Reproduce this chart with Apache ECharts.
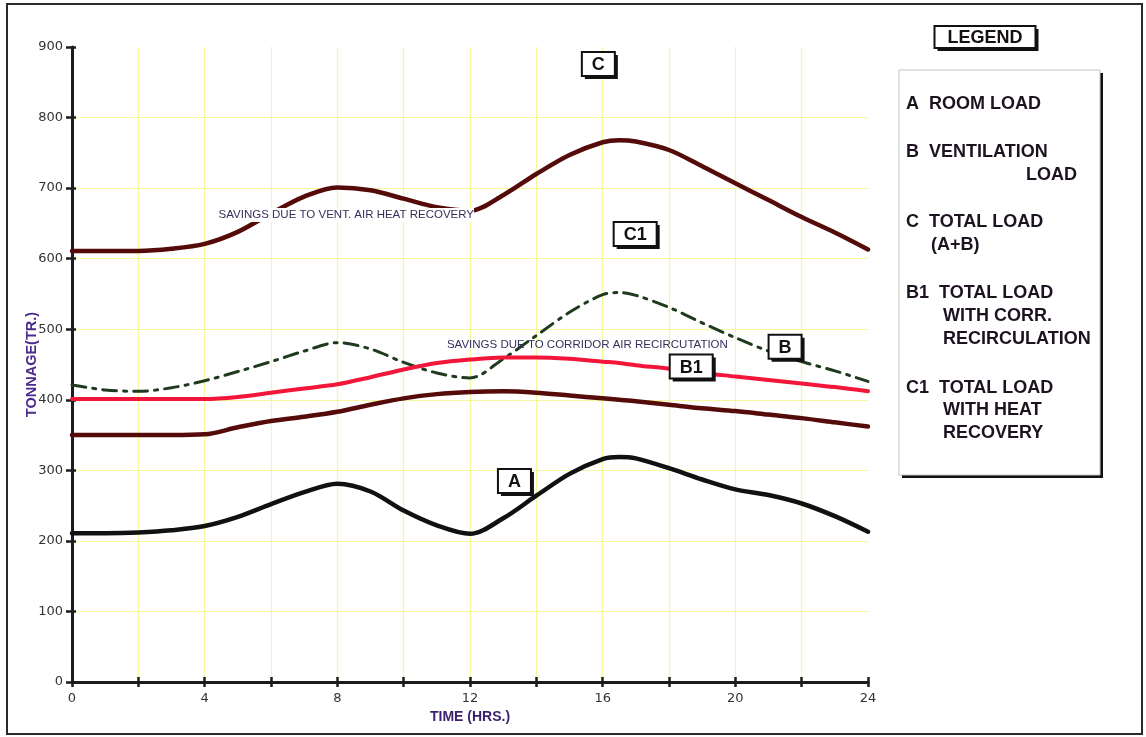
<!DOCTYPE html>
<html><head><meta charset="utf-8">
<script src="https://cdn.jsdelivr.net/npm/echarts@6/dist/echarts.min.js"></script>
<style>html,body{margin:0;padding:0;background:#fff}#c{width:1146px;height:737px}</style>
</head><body><div id="c"></div>
<script>
// ---- data (hours) ----
const hours = [0,1,2,3,4,5,6,7,8,9,10,11,12,13,14,15,16,16.5,17,18,19,20,21,22,23,24];
const totalLoadC   = [611,611,611,614,621,638,664,688,701,697,685,673,668,690,720,747,765,768,766,754,731,707,683,659,637,613];
const dashedLoadC1 = [421,414,412,417,427,440,454,469,481,472,453,438,431,458,491,524,549,552,548,531,509,488,469,454,441,426];
const redLoadB1    = [401,401,401,401,401,404,410,416,422,432,443,452,457,460,460,458,454,452,449,444,438,433,428,423,418,412];
const maroonLoadB  = [350,350,350,350,351,361,370,376,383,393,402,408,411,412,410,406,402,400,398,393,388,384,379,374,368,362];
const roomLoadA    = [211,211,212,215,221,234,252,269,281,270,243,222,210,232,264,295,316,319,317,303,287,273,265,253,235,213];
const xTickStep = 2, xLabelStep = 4, yTickStep = 100;

// annotation anchors (data coordinates)
const boxLabels = ['C','C1','B1','B','A'];
const boxHours  = [15.87, 16.98, 18.67, 21.5, 13.34];
const boxValues = [876, 635, 447, 475, 285];
const noteTexts  = ['SAVINGS DUE TO VENT. AIR HEAT RECOVERY','SAVINGS DUE TO CORRIDOR AIR RECIRCUTATION'];
const noteHours  = [8.27, 15.54];
const noteValues = [662, 478];

const legendLines = [
  ['A  ROOM LOAD', 906, 104, 'left'],
  ['B  VENTILATION', 906, 152, 'left'],
  ['LOAD', 1077, 175, 'right'],
  ['C  TOTAL LOAD', 906, 222, 'left'],
  ['(A+B)', 931, 245, 'left'],
  ['B1  TOTAL LOAD', 906, 293, 'left'],
  ['WITH CORR.', 943, 316, 'left'],
  ['RECIRCULATION', 943, 339, 'left'],
  ['C1  TOTAL LOAD', 906, 388, 'left'],
  ['WITH HEAT', 943, 410, 'left'],
  ['RECOVERY', 943, 433, 'left']
];

const pairs = arr => hours.map((h, i) => [h, arr[i]]);
const FONT = 'Liberation Sans, Arial, sans-serif';
const axisColor = '#1c1c1c';
const gridColor = '#f6f69a';

const chart = echarts.init(document.getElementById('c'));
const lineSeries = (name, data, color, width, type, z) => ({
  name, type: 'line', data: pairs(data), smooth: 0.32, symbol: 'none', z: z || 2,
  lineStyle: { color, width, type: type || 'solid', cap: 'round', join: 'round' },
  xAxisIndex: 0, yAxisIndex: 0
});

chart.setOption({
  animation: false,
  backgroundColor: '#fff',
  grid: { left: 72, right: 278, top: 47, bottom: 55, containLabel: false },
  xAxis: [{
    type: 'value', min: 0, max: 24, interval: xTickStep,
    name: 'TIME (HRS.)', nameLocation: 'middle', nameGap: 26,
    nameTextStyle: { color: '#3b1f6e', fontWeight: 'bold', fontSize: 14, fontFamily: FONT },
    axisLine: { show: true, lineStyle: { color: axisColor, width: 3 } },
    axisTick: { show: true, length: 5, lineStyle: { color: axisColor, width: 2.5 } },
    axisLabel: { color: '#333', fontSize: 13, fontFamily: 'DejaVu Sans', margin: 10,
      formatter: v => (v % xLabelStep === 0 ? String(v) : '') },
    splitLine: { show: true, showMaxLine: false, lineStyle: { color: gridColor, width: 1.2 } }
  }, {
    type: 'value', min: 0, max: 24, interval: xTickStep, position: 'bottom',
    axisLine: { show: false }, axisLabel: { show: false }, splitLine: { show: false },
    axisTick: { show: true, inside: true, length: 5, lineStyle: { color: axisColor, width: 2.5 } }
  }],
  yAxis: [{
    type: 'value', min: 0, max: 900, interval: yTickStep,
    name: 'TONNAGE(TR.)', nameLocation: 'middle', nameGap: 33, nameMoveOverlap: false,
    nameTextStyle: { color: '#4a2a8a', fontWeight: 'bold', fontSize: 14.5, fontFamily: FONT },
    axisLine: { show: true, lineStyle: { color: axisColor, width: 3 } },
    axisTick: { show: true, length: 6, lineStyle: { color: axisColor, width: 2.5 } },
    axisLabel: { color: '#333', fontSize: 13, fontFamily: 'DejaVu Sans', margin: 9 },
    splitLine: { show: true, showMaxLine: false, lineStyle: { color: gridColor, width: 1.2 } }
  }, {
    type: 'value', min: 0, max: 900, interval: yTickStep, position: 'left',
    axisLine: { show: false }, axisLabel: { show: false }, splitLine: { show: false },
    axisTick: { show: true, inside: true, length: 4, lineStyle: { color: axisColor, width: 2.5 } }
  }],
  series: [
    lineSeries('C total load', totalLoadC, '#560b0b', 4.5),
    lineSeries('B load', maroonLoadB, '#560b0b', 4.5),
    lineSeries('C1 load', dashedLoadC1, '#1f3a1f', 3, [14, 7, 3, 7]),
    lineSeries('B1 load', redLoadB1, '#f2173a', 4, 'solid', 3),
    lineSeries('A room load', roomLoadA, '#111111', 4.5)
  ]
});

// ---- annotations & legend as graphics ----
const measure = (() => { const c = document.createElement('canvas').getContext('2d');
  return (t, f) => { c.font = f; return c.measureText(t).width; }; })();
const BOXFONT = 'bold 18px ' + FONT;
const g = [];
// outer frame
g.push({ type: 'rect', z: 100, shape: { x: 7, y: 4, width: 1135, height: 730 },
  style: { fill: 'none', stroke: '#2a2a2a', lineWidth: 2 } });

function shadowBox(cx, cy, w, h, text, font) {
  return { type: 'group', x: cx, y: cy, children: [
    { type: 'rect', z: 200, shape: { x: -w / 2 + 3, y: -h / 2 + 3, width: w, height: h }, style: { fill: '#111' } },
    { type: 'rect', z: 201, shape: { x: -w / 2, y: -h / 2, width: w, height: h }, style: { fill: '#fff', stroke: '#111', lineWidth: 2 } },
    { type: 'text', z: 202, style: { text, x: 0, y: 1, align: 'center', verticalAlign: 'middle', font, fill: '#151015' } }
  ] };
}
boxLabels.forEach((t, i) => {
  const p = chart.convertToPixel({ gridIndex: 0 }, [boxHours[i], boxValues[i]]);
  g.push(shadowBox(p[0], p[1], measure(t, BOXFONT) + 20, 24, t, BOXFONT));
});
noteTexts.forEach((t, i) => {
  const p = chart.convertToPixel({ gridIndex: 0 }, [noteHours[i], noteValues[i]]);
  g.push({ type: 'text', z: 150, x: p[0], y: p[1], style: {
    text: t, align: 'center', verticalAlign: 'middle', font: '11.5px ' + FONT, fill: '#34305c',
    backgroundColor: i === 0 ? '#fff' : null, padding: [1, 0] } });
});
// legend
g.push(shadowBox(985, 37, 101, 22, 'LEGEND', BOXFONT));
g.push({ type: 'rect', z: 145, shape: { x: 902, y: 73, width: 201, height: 405 }, style: { fill: '#111' } });
g.push({ type: 'rect', z: 146, shape: { x: 899, y: 70, width: 201, height: 405 }, style: { fill: '#fff', stroke: '#c4c4c4', lineWidth: 1 } });
legendLines.forEach(l => {
  g.push({ type: 'text', z: 147, x: l[1], y: l[2], style: { text: l[0], align: l[3], verticalAlign: 'middle', font: BOXFONT, fill: '#1d1320' } });
});
chart.setOption({ graphic: g });
</script>
</body></html>
